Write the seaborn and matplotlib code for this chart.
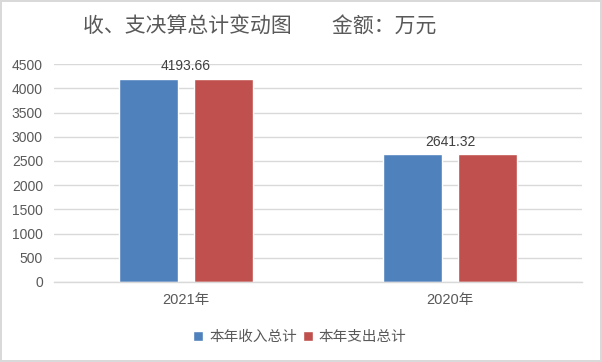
import pandas as pd
import numpy as np
import matplotlib
matplotlib.use("Agg")
import matplotlib.pyplot as plt
import seaborn as sns

# data
years = ["2021年", "2020年"]
series = ["本年收入总计", "本年支出总计"]
income = [4193.66, 2641.32]
expense = [4193.66, 2641.32]
labels = ["4193.66", "2641.32"]
colors = ["#4F81BD", "#C0504D"]

df = pd.DataFrame({
    "year": years * 2,
    "kind": [series[0]] * len(years) + [series[1]] * len(years),
    "value": income + expense,
})

sns.set_style("white")
plt.rcParams["font.family"] = ["Liberation Sans", "Noto Sans CJK SC"]

fig = plt.figure(figsize=(6.02, 3.62), dpi=100)
fig.patch.set_edgecolor("#D9D9D9")
fig.patch.set_linewidth(1.5)
ax = fig.add_axes([0.0897, 0.221, 0.877, 0.602])

sns.barplot(data=df, x="year", y="value", hue="kind", order=years,
            hue_order=series, palette=colors, width=0.568, gap=0.21,
            saturation=1, ax=ax, legend=True)

ax.set_ylim(0, 4500)
ax.set_xlim(-0.5, 1.5)
ax.set_yticks(np.arange(0, 4501, 500))
ax.yaxis.grid(True, color="#D9D9D9", linewidth=1)
ax.set_axisbelow(True)
for s in ["top", "right", "left"]:
    ax.spines[s].set_visible(False)
ax.spines["bottom"].set_color("#D9D9D9")
ax.spines["bottom"].set_linewidth(1)
ax.set_xlabel("")
ax.set_ylabel("")
ax.tick_params(axis="y", length=0, labelsize=10, colors="#595959", pad=8)
ax.tick_params(axis="x", length=0, labelsize=10.5, colors="#595959", pad=8)

for i, (v, t) in enumerate(zip(income, labels)):
    ax.annotate(t, (i, v), xytext=(0, 4), textcoords="offset points",
                ha="center", va="bottom", fontsize=10, color="#404040")

ax.get_legend().remove()
h, l = ax.get_legend_handles_labels()
fig.legend(h, l, loc="center", bbox_to_anchor=(0.498, 0.068), ncol=2,
           frameon=False, fontsize=10.5, handlelength=0.7, handleheight=0.7,
           handletextpad=0.4, columnspacing=0.4, labelcolor="#595959")

fig.text(0.432, 0.925, "收、支决算总计变动图       金额：万元", ha="center",
         va="center", fontsize=15, color="#595959")

fig.savefig("out.png", dpi=100)
